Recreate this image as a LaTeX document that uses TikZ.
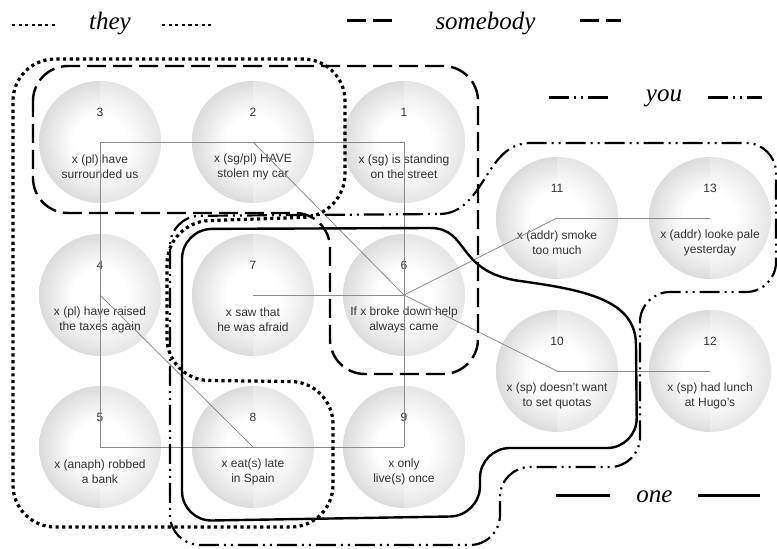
\documentclass[tikz,border=0pt]{standalone}
\usepackage{fontspec}
\setmainfont{Liberation Serif}
\setsansfont{Liberation Sans}
\usetikzlibrary{positioning}
\definecolor{BallText}{HTML}{333333}
\definecolor{LinkGrey}{HTML}{8C8C8C}
\pgfdeclareradialshading{bubbleshade}{\pgfpoint{0bp}{0bp}}{%
  color(0bp)=(white); color(11bp)=(white); color(25bp)=(black!14); color(50bp)=(black!14)}

\begin{document}
\begin{tikzpicture}[x=1pt, y=-1pt,
  bubble/.style={circle, minimum size=122pt, inner sep=0pt, shading=bubbleshade,
    path picture={\fill[white, opacity=0.3] (path picture bounding box.north)
      rectangle (path picture bounding box.south east);}},
  balltext/.style={font=\sffamily\fontsize{12}{15}\selectfont, text=BallText, align=center},
  link/.style={LinkGrey, line width=0.8pt},
  legend/.style={font=\itshape\fontsize{25}{30}\selectfont, anchor=base},
  they/.style={line width=3.2pt, dash pattern=on 3.2pt off 3.4pt},
  somebody/.style={line width=2.4pt, dash pattern=on 19pt off 7pt},
  you/.style={line width=2.2pt, dash pattern=on 20pt off 5pt on 2pt off 5pt on 2pt off 5pt},
  one/.style={line width=2.4pt, line join=round}]
  \useasboundingbox (0,0) rectangle (777,549);
  % Sentences
  \foreach \n/\x/\y/\txt in {
      1/404/142/{x (sg) is standing\\on the street},
      2/253/142/{x (sg/pl) HAVE\\stolen my car},
      3/100/142/{x (pl) have\\surrounded us},
      4/100/295/{x (pl) have raised\\the taxes again},
      5/100/447/{x (anaph) robbed\\a bank},
      6/404/295/{If x broke down help\\always came},
      7/253/295/{x saw that\\he was afraid},
      8/253/447/{x eat(s) late\\in Spain},
      9/404/447/{x only\\live(s) once},
      10/557/371/{x (sp) doesn't want\\to set quotas},
      11/557/218/{x (addr) smoke\\too much},
      12/710/371/{x (sp) had lunch\\at Hugo's},
      13/710/218/{x (addr) looke pale\\yesterday}} {
    \node[bubble] (c\n) at (\x,\y) {};
    \node[balltext] (n\n) at ([yshift=30pt]c\n.center) {\n};
    \node[balltext] (t\n) at ([yshift=-24.5pt]c\n.center) {\txt};
  }
  % Links
  \foreach \a/\b in {3/2, 2/1, 1/6, 6/9, 9/8, 8/5, 5/4, 4/3, 2/6, 7/6,
                     6/11, 11/13, 6/10, 10/12, 4/8}
    \draw[link] (c\a.center) -- (c\b.center);
  % Groupings
  \draw[they, rounded corners=42pt] (13,300) -- (13,59) -- (345,59) -- (345,216)
    -- (167,222) -- (167,380) -- (333,382) -- (333,527) -- (13,527) -- cycle;
  \draw[somebody, rounded corners=35pt] (33,140) -- (33,66) -- (478,66) -- (478,374)
    -- (330,374) -- (330,213) -- (33,213) -- cycle;
  \draw[you] (440,214) .. controls (485,213) and (485,143) .. (530,143)
    [rounded corners=30pt] -- (776,143) -- (776,292) -- (640,292) -- (640,467)
    -- (500,467) -- (500,545) -- (170,545) -- (170,216) -- (440,214);
  \draw[one] (430,228) .. controls (470,228) and (455,272) .. (520,281)
    .. controls (585,290) and (636,300) .. (636,345)
    [rounded corners=30pt] -- (637,448) -- (480,448) -- (480,516) -- (182,521)
    -- (182,229) -- (430,228);
  % Key
  \node[legend] (lthey) at (110,29) {they};
  \draw[they, line width=2.6pt] (12,25) -- (55,25);
  \draw[they, line width=2.6pt] (162,25) -- (213,25);
  \node[legend] (lsomebody) at (485.5,29) {somebody};
  \draw[somebody, line width=3pt] (347,20) -- (393,20);
  \draw[somebody, line width=3pt] (580,20) -- (621,20);
  \node[legend] (lyou) at (664,101) {you};
  \draw[you, line width=3pt] (549,97) -- (610,97);
  \draw[you, line width=3pt] (708,97) -- (762,97);
  \node[legend] (lone) at (654.5,502) {one};
  \draw[one, line width=3pt] (556,495) -- (610,495);
  \draw[one, line width=3pt] (698,495) -- (760,495);
\end{tikzpicture}
\end{document}
